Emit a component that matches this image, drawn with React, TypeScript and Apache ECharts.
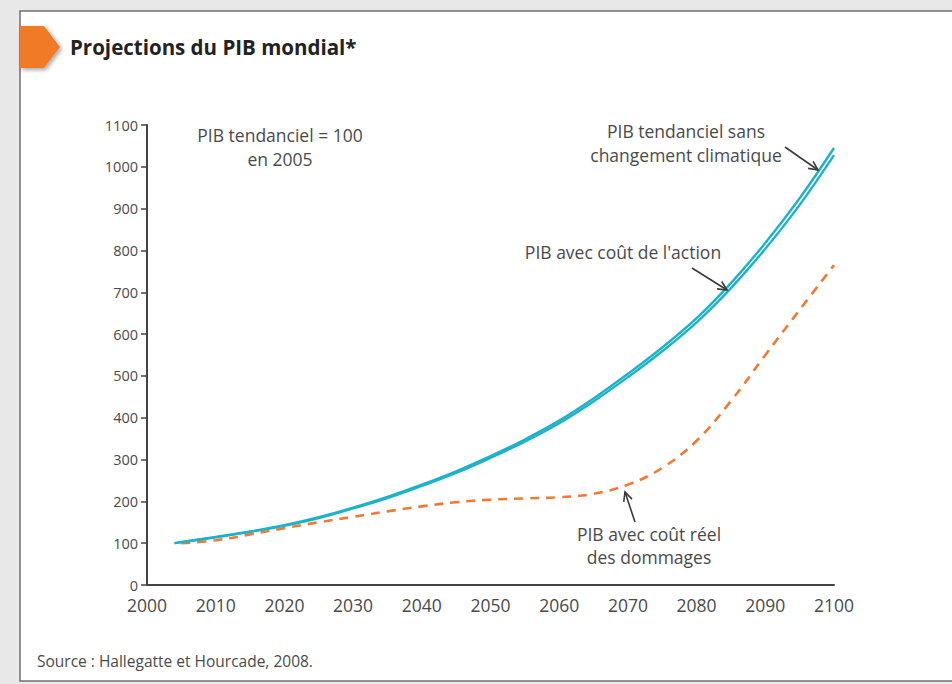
import React, { useEffect, useRef } from "react";
import * as echarts from "echarts";

const yearsTrend = [2004, 2010, 2015, 2020, 2025, 2030, 2035, 2040, 2045, 2050, 2055, 2060, 2065, 2070, 2075, 2080, 2085, 2090, 2095, 2100];
const trendNoCC = [100, 115, 128, 143, 162, 185, 211, 240, 272, 308, 348, 393, 446, 505, 568, 638, 722, 818, 925, 1045];
const trendAction = [100, 114, 127, 142, 160, 183, 208, 237, 268, 304, 343, 387, 439, 497, 559, 628, 710, 804, 909, 1028];
const yearsDamage = [2005, 2010, 2015, 2020, 2025, 2030, 2035, 2040, 2045, 2050, 2055, 2060, 2065, 2070, 2075, 2080, 2085, 2090, 2095, 2100];
const realDamage = [100, 107, 121, 136, 150, 163, 176, 188, 198, 204, 207, 210, 218, 240, 280, 345, 440, 550, 658, 765];

const TITLE = "Projections du PIB mondial*";
const SOURCE = "Source : Hallegatte et Hourcade, 2008.";

const FONT = "'Open Sans', 'DejaVu Sans', sans-serif";
const TEAL = "#1db2c7";
const ORANGE = "#f07a35";
const TXT = "#4a4a4a";

function arrow(x1: number, y1: number, x2: number, y2: number) {
  const ang = Math.atan2(y2 - y1, x2 - x1);
  const L = 10;
  const a = Math.PI / 7;
  const p1 = [x2 - L * Math.cos(ang - a), y2 - L * Math.sin(ang - a)];
  const p2 = [x2 - L * Math.cos(ang + a), y2 - L * Math.sin(ang + a)];
  return [
    { type: "line", shape: { x1, y1, x2, y2 }, style: { stroke: "#3a3a3a", lineWidth: 1.6 }, z: 10 },
    { type: "polyline", shape: { points: [p1, [x2, y2], p2] }, style: { stroke: "#3a3a3a", lineWidth: 1.6, fill: null }, z: 10 },
  ];
}

function label(text: string, x: number, y: number, size = 17.5, align = "center") {
  return {
    type: "text",
    x,
    y,
    style: { text, fill: TXT, font: `${size}px ${FONT}`, textAlign: align, textVerticalAlign: "middle" },
    z: 10,
  };
}

export default function App() {
  const ref = useRef<HTMLDivElement>(null);
  useEffect(() => {
    if (!ref.current) return;
    const chart = echarts.init(ref.current, null, { renderer: "svg" });
    chart.setOption({
      animation: false,
      backgroundColor: "#e8e8e8",
      grid: { left: 147, right: 118, top: 125, bottom: 99 },
      xAxis: {
        type: "value",
        min: 2000,
        max: 2100,
        interval: 10,
        axisLine: { lineStyle: { color: "#444", width: 2 } },
        axisTick: { show: false },
        splitLine: { show: false },
        axisLabel: { color: TXT, fontFamily: FONT, fontSize: 17.5, margin: 11, lineHeight: 18, formatter: (v: number) => String(v) },
      },
      yAxis: {
        type: "value",
        min: 0,
        max: 1100,
        interval: 100,
        axisLine: { show: true, lineStyle: { color: "#444", width: 2 } },
        axisTick: { show: true, length: 6, lineStyle: { color: "#444", width: 1.5 } },
        splitLine: { show: false },
        axisLabel: { color: TXT, fontFamily: FONT, fontSize: 14.5, margin: 9, lineHeight: 15, formatter: (v: number) => String(v) },
      },
      series: [
        {
          type: "line",
          name: "PIB tendanciel sans changement climatique",
          data: yearsTrend.map((y, i) => [y, trendNoCC[i]]),
          smooth: 0.4,
          showSymbol: false,
          lineStyle: { color: TEAL, width: 2.4 },
          z: 3,
        },
        {
          type: "line",
          name: "PIB avec coût de l'action",
          data: yearsTrend.map((y, i) => [y, trendAction[i]]),
          smooth: 0.4,
          showSymbol: false,
          lineStyle: { color: TEAL, width: 2.4 },
          z: 3,
        },
        {
          type: "line",
          name: "PIB avec coût réel des dommages",
          data: yearsDamage.map((y, i) => [y, realDamage[i]]),
          smooth: 0.4,
          showSymbol: false,
          lineStyle: { color: ORANGE, width: 2.6, type: [9, 7] },
          z: 2,
        },
      ],
      graphic: [
        {
          type: "rect",
          shape: { x: 20, y: 11, width: 960, height: 670 },
          style: { fill: "#ffffff", stroke: "#6f6f6f", lineWidth: 1.5 },
          z: -10,
          silent: true,
        },
        {
          type: "polygon",
          shape: { points: [[20, 26], [44, 26], [60, 47], [44, 68], [20, 68]] },
          style: { fill: "#f07a27", shadowBlur: 4, shadowColor: "rgba(0,0,0,0.35)", shadowOffsetX: 2, shadowOffsetY: 2 },
          z: 5,
        },
        {
          type: "text",
          x: 70,
          y: 47,
          style: { text: TITLE, fill: "#222", font: `bold 20.5px ${FONT}`, textVerticalAlign: "middle" },
          z: 5,
        },
        label("PIB tendanciel = 100", 280, 135),
        label("en 2005", 280, 159),
        label("PIB tendanciel sans", 686, 131),
        label("changement climatique", 686, 155),
        label("PIB avec coût de l'action", 623, 252),
        label("PIB avec coût réel", 649, 534),
        label("des dommages", 649, 557),
        label(SOURCE, 37, 661, 15.5, "left"),
        ...arrow(785, 147, 818, 170),
        ...arrow(692, 268, 727, 290),
        ...arrow(635, 522, 625, 492),
      ],
    });
    return () => chart.dispose();
  }, []);
  return <div ref={ref} style={{ position: "fixed", left: 0, top: 0, width: 952, height: 684 }} />;
}
